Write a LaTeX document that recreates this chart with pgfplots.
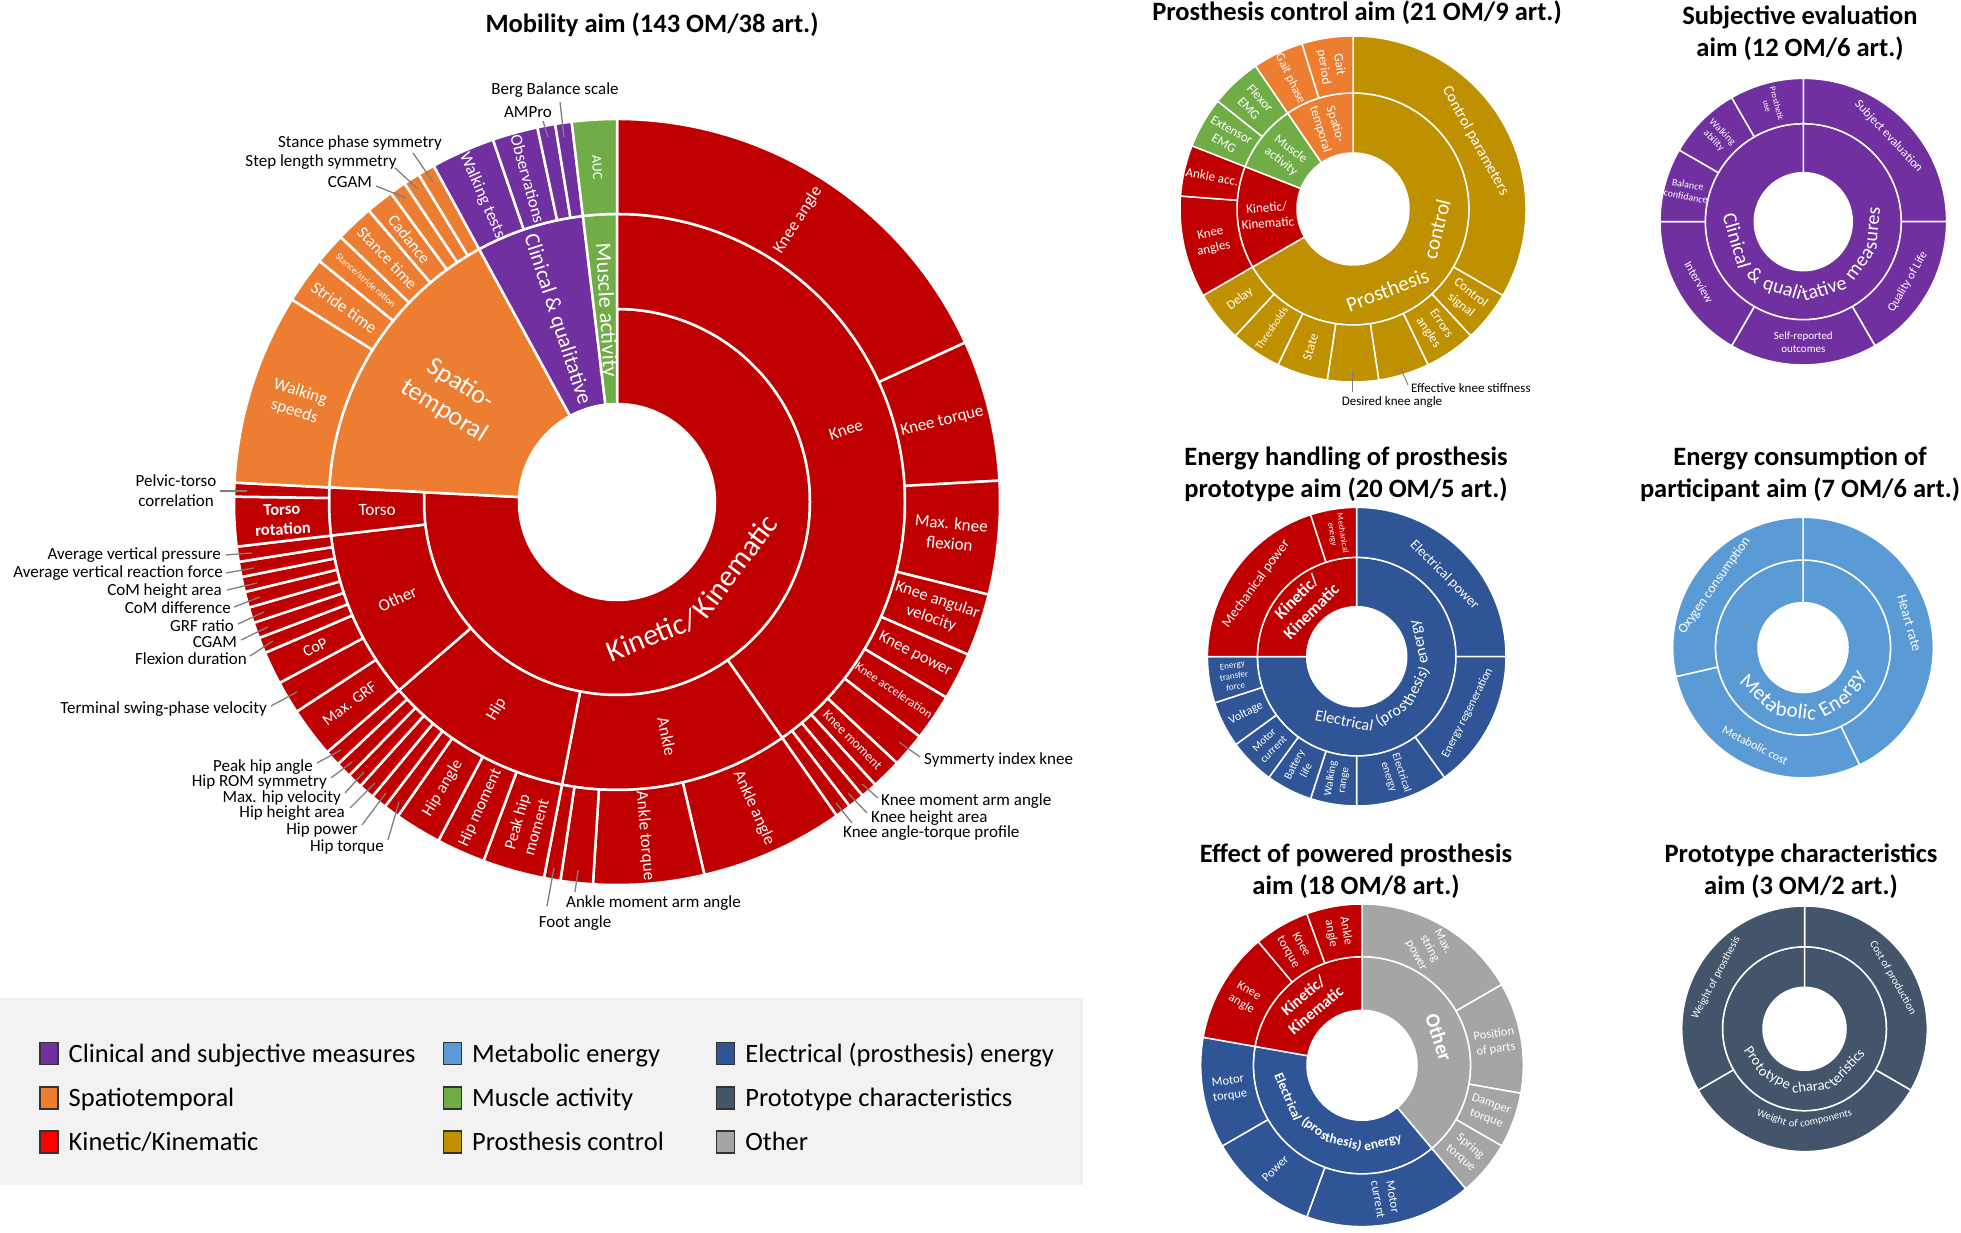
\documentclass[border=0pt]{standalone}
\usepackage{fontspec}
\setmainfont{Carlito}
\usepackage{pgfplots}
\pgfplotsset{compat=1.18}
\usepackage{pgfplotstable}
\definecolor{cR}{HTML}{C00000}
\definecolor{cO}{HTML}{ED7D31}
\definecolor{cP}{HTML}{7030A0}
\definecolor{cG}{HTML}{70AD47}
\definecolor{cY}{HTML}{BF9000}
\definecolor{cB}{HTML}{2F5597}
\definecolor{cL}{HTML}{5B9BD5}
\definecolor{cGy}{HTML}{A5A5A5}
\definecolor{cD}{HTML}{44546A}
\definecolor{cLR}{HTML}{FF0000}
\definecolor{cBg}{HTML}{F2F2F2}
\definecolor{cLd}{HTML}{7F7F7F}
\pgfdeclareplotmark{blank}{}
\tikzset{ldr/.style={draw=cLd, line width=1.3pt},
  olab/.style={font=\fontsize{17}{20}\selectfont, inner sep=1pt, text=black},
  ttl/.style={font=\fontsize{26.5}{32}\selectfont\bfseries, align=center, inner sep=0pt}}
% label inside a segment: [extra font] cx cy theta r rotation size text
\newcommand\lab[8][]{\path (axis cs:#2,#3) ++({90-(#4)}:#5pt) node[rotate=#6, text=white, align=center, inner sep=0pt, font=\fontsize{#7}{\dimexpr#7pt*6/5\relax}\selectfont#1] {#8};}
% word of a label that follows the ring (tops towards centre): [extra font] cx cy theta r size word
\newcommand\wlab[7][]{\path (axis cs:#2,#3) ++({90-(#4)}:#5pt) node[rotate={180-(#4)}, text=white, inner sep=0pt, font=\fontsize{#6}{#6}\selectfont#1] {#7};}
\newcommand\pickcol[1]{\ifcase#1\or\def\wColN{cR}\or\def\wColN{cO}\or\def\wColN{cP}\or\def\wColN{cG}\or\def\wColN{cY}\or\def\wColN{cB}\or\def\wColN{cL}\or\def\wColN{cGy}\or\def\wColN{cD}\else\def\wColN{black}\fi}

% c: 1 red, 2 orange, 3 purple, 4 green, 5 gold, 6 dark blue, 7 light blue, 8 grey, 9 slate
\pgfplotstableread{
cx cy t1 t2 r1 r2 c lw
617 502 0 272.9 98 193 1 2.5
617 502 272.9 331.4 98 288 2 2.5
617 502 331.4 353.2 98 288 3 2.5
617 502 353.2 360 98 288 4 2.5
617 502 0 145 193 288 1 2.5
617 502 145 191 193 288 1 2.5
617 502 191 229.2 193 288 1 2.5
617 502 229.2 263.3 193 288 1 2.5
617 502 263.3 272.9 193 288 1 2.5
617 502 0 65.4 288 383 1 2.5
617 502 65.4 86.8 288 383 1 2.5
617 502 86.8 104 288 383 1 2.5
617 502 104 113.5 288 383 1 2.5
617 502 113.5 120.7 288 383 1 2.5
617 502 120.7 127.8 288 383 1 2.5
617 502 127.8 133 288 383 1 2.5
617 502 133 137.6 288 383 1 2.5
617 502 137.6 140.1 288 383 1 2.5
617 502 140.1 142.6 288 383 1 2.5
617 502 142.6 145 288 383 1 2.5
617 502 145 166.8 288 383 1 2.5
617 502 166.8 183.6 288 383 1 2.5
617 502 183.6 188.5 288 383 1 2.5
617 502 188.5 191 288 383 1 2.5
617 502 191 200.4 288 383 1 2.5
617 502 200.4 207.8 288 383 1 2.5
617 502 207.8 214.9 288 383 1 2.5
617 502 214.9 217.3 288 383 1 2.5
617 502 217.3 219.7 288 383 1 2.5
617 502 219.7 222.1 288 383 1 2.5
617 502 222.1 224.4 288 383 1 2.5
617 502 224.4 226.8 288 383 1 2.5
617 502 226.8 229.2 288 383 1 2.5
617 502 229.2 236.8 288 383 1 2.5
617 502 236.8 241.8 288 383 1 2.5
617 502 241.8 246.8 288 383 1 2.5
617 502 246.8 249.2 288 383 1 2.5
617 502 249.2 251.6 288 383 1 2.5
617 502 251.6 254 288 383 1 2.5
617 502 254 256.4 288 383 1 2.5
617 502 256.4 258.7 288 383 1 2.5
617 502 258.7 261 288 383 1 2.5
617 502 261 263.3 288 383 1 2.5
617 502 263.3 270.8 288 383 1 2.5
617 502 270.8 272.9 288 383 1 2.5
617 502 272.9 301.9 288 383 2 2.5
617 502 301.9 309 288 383 2 2.5
617 502 309 313.8 288 383 2 2.5
617 502 313.8 319.6 288 383 2 2.5
617 502 319.6 323.8 288 383 2 2.5
617 502 323.8 326.3 288 383 2 2.5
617 502 326.3 328.8 288 383 2 2.5
617 502 328.8 331.4 288 383 2 2.5
617 502 331.4 341.1 288 383 3 2.5
617 502 341.1 348 288 383 3 2.5
617 502 348 350.7 288 383 3 2.5
617 502 350.7 353.2 288 383 3 2.5
617 502 353.2 360 288 383 4 2.5
1353 209 0 240 56 116 5 1.5
1353 209 240 291.43 56 116 1 1.5
1353 209 291.43 325.71 56 116 4 1.5
1353 209 325.71 360 56 116 2 1.5
1353 209 0 120 116 173 5 1.5
1353 209 120 137.14 116 173 5 1.5
1353 209 137.14 154.29 116 173 5 1.5
1353 209 154.29 171.43 116 173 5 1.5
1353 209 171.43 188.57 116 173 5 1.5
1353 209 188.57 205.71 116 173 5 1.5
1353 209 205.71 222.86 116 173 5 1.5
1353 209 222.86 240 116 173 5 1.5
1353 209 240 274.29 116 173 1 1.5
1353 209 274.29 291.43 116 173 1 1.5
1353 209 291.43 308.57 116 173 4 1.5
1353 209 308.57 325.71 116 173 4 1.5
1353 209 325.71 342.86 116 173 2 1.5
1353 209 342.86 360 116 173 2 1.5
1803.3 221.7 0 360 49 98 3 1.5
1803.3 221.7 0 90 98 143.3 3 1.5
1803.3 221.7 90 150 98 143.3 3 1.5
1803.3 221.7 150 210 98 143.3 3 1.5
1803.3 221.7 210 270 98 143.3 3 1.5
1803.3 221.7 270 300 98 143.3 3 1.5
1803.3 221.7 300 330 98 143.3 3 1.5
1803.3 221.7 330 360 98 143.3 3 1.5
1356.7 656.7 0 270 50 99.3 6 1.5
1356.7 656.7 270 360 50 99.3 1 1.5
1356.7 656.7 0 90 99.3 149.3 6 1.5
1356.7 656.7 90 144 99.3 149.3 6 1.5
1356.7 656.7 144 180 99.3 149.3 6 1.5
1356.7 656.7 180 198 99.3 149.3 6 1.5
1356.7 656.7 198 216 99.3 149.3 6 1.5
1356.7 656.7 216 234 99.3 149.3 6 1.5
1356.7 656.7 234 252 99.3 149.3 6 1.5
1356.7 656.7 252 270 99.3 149.3 6 1.5
1356.7 656.7 270 342 99.3 149.3 1 1.5
1356.7 656.7 342 360 99.3 149.3 1 1.5
1803 647.6 0 360 45 87.6 7 1.5
1803 647.6 0 154.29 87.6 130.3 7 1.5
1803 647.6 154.29 257.14 87.6 130.3 7 1.5
1803 647.6 257.14 360 87.6 130.3 7 1.5
1362 1065.3 0 140 55 108.6 8 1.5
1362 1065.3 140 280 55 108.6 6 1.5
1362 1065.3 280 360 55 108.6 1 1.5
1362 1065.3 0 60 108.6 161.3 8 1.5
1362 1065.3 60 100 108.6 161.3 8 1.5
1362 1065.3 100 120 108.6 161.3 8 1.5
1362 1065.3 120 140 108.6 161.3 8 1.5
1362 1065.3 140 200 108.6 161.3 6 1.5
1362 1065.3 200 240 108.6 161.3 6 1.5
1362 1065.3 240 280 108.6 161.3 6 1.5
1362 1065.3 280 320 108.6 161.3 1 1.5
1362 1065.3 320 340 108.6 161.3 1 1.5
1362 1065.3 340 360 108.6 161.3 1 1.5
1804.5 1028.8 0 360 41.5 82 9 1.5
1804.5 1028.8 0 120 82 122.8 9 1.5
1804.5 1028.8 120 240 82 122.8 9 1.5
1804.5 1028.8 240 360 82 122.8 9 1.5
}\wedges

\begin{document}
\begin{tikzpicture}
\begin{axis}[at={(0,0)}, anchor=south west, x=1pt, y=1pt,
  xmin=0, xmax=1961, ymin=0, ymax=1233, y dir=reverse,
  hide axis, clip=false, set layers=standard,
  legend columns=3, legend cell align=left,
  legend image code/.code={\draw[#1, draw=black!80, line width=1.5pt] (0pt,-11pt) rectangle (18pt,11pt);},
  legend style={at={(axis cs:39,1041)}, anchor=north west, draw=none, fill=none, inner sep=0pt,
    font=\fontsize{26.5}{30}\selectfont, row sep=20pt,
    /tikz/column 1/.style={column sep=8pt},
    /tikz/column 2/.style={column sep=25pt},
    /tikz/column 3/.style={column sep=8pt},
    /tikz/column 4/.style={column sep=50pt},
    /tikz/column 5/.style={column sep=8pt}}]

\fill[cBg] (axis cs:0,998) rectangle (axis cs:1083,1185);

\addplot[scatter, only marks, mark=blank, forget plot, point meta=explicit,
  on layer=axis background, mark layer=like plot,
  visualization depends on={\thisrow{t1}\as\wTa},
  visualization depends on={\thisrow{t2}\as\wTb},
  visualization depends on={\thisrow{r1}\as\wRa},
  visualization depends on={\thisrow{r2}\as\wRb},
  visualization depends on={\thisrow{c}\as\wCi},
  visualization depends on={\thisrow{lw}\as\wLw},
  scatter/@pre marker code/.code={%
    \pgfmathsetmacro\wPa{90-\wTa}\pgfmathsetmacro\wPb{90-\wTb}%
    \pgfmathsetmacro\wRA{\wRa}\pgfmathsetmacro\wRB{\wRb}\pgfmathsetmacro\wLW{\wLw}%
    \pgfmathtruncatemacro\wCk{round(\wCi)}\pickcol{\wCk}%
    \filldraw[fill=\wColN, draw=white, line width=\wLW pt, line join=round]
      (\wPa:\wRA pt) arc[start angle=\wPa, end angle=\wPb, radius=\wRA pt]
      -- (\wPb:\wRB pt) arc[start angle=\wPb, end angle=\wPa, radius=\wRB pt] -- cycle;},
  scatter/@post marker code/.code={}
] table[x=cx, y=cy, meta=r2] \wedges;

% ---------- main chart labels ----------
\path (axis cs:617,502) ++({90-165.5}:138pt) node[rotate=22, text=white, inner sep=0pt, font=\fontsize{30}{30}\selectfont] {Kinetic/};
\path (axis cs:617,502) ++({90-118.5}:134pt) node[rotate=53, text=white, inner sep=0pt, font=\fontsize{30}{30}\selectfont] {Kinematic};
\lab{617}{502}{72.5}{240}{17.5}{17}{Knee}
\lab{617}{502}{168}{240}{-78}{17}{Ankle}
\lab{617}{502}{210.1}{240}{59.9}{17}{Hip}
\lab{617}{502}{246.2}{240}{23.8}{17}{Other}
\lab{617}{502}{268.1}{240}{1.9}{17}{Torso}
\lab{617}{502}{32.7}{335}{57.3}{17}{Knee angle}
\lab{617}{502}{76.1}{335}{13.9}{17}{Knee torque}
\lab{617}{502}{95.4}{335}{-5.4}{17}{Max. knee\\flexion}
\lab{617}{502}{108.7}{335}{-18.7}{16.5}{Knee angular\\velocity}
\lab{617}{502}{117.1}{335}{-27.1}{16.5}{Knee power}
\lab{617}{502}{124.2}{335}{-34.2}{12.5}{Knee acceleration}
\lab{617}{502}{135.3}{335}{-45.3}{13.5}{Knee moment}
\lab{617}{502}{155.9}{335}{-65.9}{17}{Ankle angle}
\lab{617}{502}{175.2}{335}{-85.2}{17}{Ankle torque}
\lab{617}{502}{195.7}{335}{74.3}{16.5}{Peak hip\\moment}
\lab{617}{502}{204.1}{335}{65.9}{16.5}{Hip moment}
\lab{617}{502}{211.35}{335}{58.65}{16.5}{Hip angle}
\lab{617}{502}{233}{335}{37}{16}{Max. GRF}
\lab{617}{502}{244.3}{335}{25.7}{16}{CoP}
\lab[\bfseries]{617}{502}{267}{335}{3}{16.5}{Torso\\rotation}
\lab{617}{502}{287.4}{335}{-17.4}{17}{Walking\\speeds}
\lab{617}{502}{305.5}{335}{-35.5}{17}{Stride time}
\lab{617}{502}{311.4}{335}{-41.4}{9.5}{Stance/stride ration}
\lab{617}{502}{316.7}{335}{-46.7}{16.5}{Stance time}
\lab{617}{502}{321.7}{335}{-51.7}{16.5}{Cadance}
\lab{617}{502}{336.25}{335}{-66.25}{17}{Walking tests}
\lab{617}{502}{344.55}{335}{-74.55}{17}{Observations}
\lab{617}{502}{356.6}{335}{-86.6}{14}{AUC}
\lab{617}{502}{302.3}{195}{-32}{26}{Spatio-\\temporal}
\lab{617}{502}{341.8}{192}{-72}{21.5}{Clinical \& qualitative}
\lab{617}{502}{356.6}{192}{-86.6}{22}{Muscle activity}

% outside labels with leaders
\node[olab] at (axis cs:555,90) {Berg Balance scale};
\draw[ldr] (axis cs:560,102) -- (axis cs:564,137);
\node[olab] at (axis cs:528,112) {AMPro};
\draw[ldr] (axis cs:543,121) -- (axis cs:548,137);
\node[olab] at (axis cs:360,143) {Stance phase symmetry};
\draw[ldr] (axis cs:413,153) -- (axis cs:433,182);
\node[olab] at (axis cs:321,162) {Step length symmetry};
\draw[ldr] (axis cs:395,168) -- (axis cs:418,189);
\node[olab] at (axis cs:350,182) {CGAM};
\draw[ldr] (axis cs:376,186) -- (axis cs:406,198);
\node[olab, align=center] at (axis cs:176,491) {Pelvic-torso\\correlation};
\draw[ldr] (axis cs:220,491) -- (axis cs:247,491);
\node[olab, anchor=east] at (axis cs:222,555) {Average vertical pressure};
\draw[ldr] (axis cs:226,555) -- (axis cs:252,553);
\node[olab, anchor=east] at (axis cs:224,573) {Average vertical reaction force};
\draw[ldr] (axis cs:226,573) -- (axis cs:254,568);
\node[olab, anchor=east] at (axis cs:223,591) {CoM height area};
\draw[ldr] (axis cs:227,590) -- (axis cs:257,583);
\node[olab, anchor=east] at (axis cs:232,608) {CoM difference};
\draw[ldr] (axis cs:234,607) -- (axis cs:260,597);
\node[olab, anchor=east] at (axis cs:235,626) {GRF ratio};
\draw[ldr] (axis cs:238,624) -- (axis cs:264,612);
\node[olab, anchor=east] at (axis cs:238,642) {CGAM};
\draw[ldr] (axis cs:241,640) -- (axis cs:268,627);
\node[olab, anchor=east] at (axis cs:248,659) {Flexion duration};
\draw[ldr] (axis cs:250,656) -- (axis cs:273,641);
\node[olab, anchor=east] at (axis cs:268,709) {Terminal swing-phase velocity};
\draw[ldr] (axis cs:271,706) -- (axis cs:297,692);
\node[olab, anchor=east] at (axis cs:314,767) {Peak hip angle};
\draw[ldr] (axis cs:317,763) -- (axis cs:341,750);
\node[olab, anchor=east] at (axis cs:328,782) {Hip ROM symmetry};
\draw[ldr] (axis cs:331,778) -- (axis cs:352,762);
\node[olab, anchor=east] at (axis cs:342,798) {Max. hip velocity};
\draw[ldr] (axis cs:345,793) -- (axis cs:364,772);
\node[olab, anchor=east] at (axis cs:346,813) {Hip height area};
\draw[ldr] (axis cs:350,808) -- (axis cs:375,783);
\node[olab, anchor=east] at (axis cs:359,830) {Hip power};
\draw[ldr] (axis cs:362,825) -- (axis cs:386,793);
\node[olab, anchor=east] at (axis cs:385,847) {Hip torque};
\draw[ldr] (axis cs:388,840) -- (axis cs:399,802);
\node[olab] at (axis cs:575,923) {Foot angle};
\draw[ldr] (axis cs:547,906) -- (axis cs:554,868);
\node[olab, anchor=west] at (axis cs:565,903) {Ankle moment arm angle};
\draw[ldr] (axis cs:575,892) -- (axis cs:578,870);
\node[olab, anchor=west] at (axis cs:923,760) {Symmerty index knee};
\draw[ldr] (axis cs:920,757) -- (axis cs:899,742);
\node[olab, anchor=west] at (axis cs:880,801) {Knee moment arm angle};
\draw[ldr] (axis cs:878,798) -- (axis cs:862,784);
\node[olab, anchor=west] at (axis cs:870,818) {Knee height area};
\draw[ldr] (axis cs:867,813) -- (axis cs:848,793);
\node[olab, anchor=west] at (axis cs:842,833) {Knee angle-torque profile};
\draw[ldr] (axis cs:852,823) -- (axis cs:836,803);

% ---------- prosthesis control ----------
\path (axis cs:1353,209) ++({90-157}:88pt) node[rotate=21, text=white, inner sep=0pt, font=\fontsize{21}{21}\selectfont] {Prosthesis};
\path (axis cs:1353,209) ++({90-103.5}:86pt) node[rotate=76, text=white, inner sep=0pt, font=\fontsize{21}{21}\selectfont] {control};
\lab{1353}{209}{61}{140}{-61}{15.5}{Control parameters}
\lab{1353}{209}{128.6}{144.5}{-38.6}{13}{Control\\signal}
\lab{1353}{209}{145.7}{144.5}{-55.7}{13}{Errors\\angles}
\lab{1353}{209}{197.1}{144.5}{72.9}{13}{State}
\lab{1353}{209}{214.3}{144.5}{55.7}{11}{Thresholds}
\lab{1353}{209}{231.4}{144.5}{38.6}{13}{Delay}
\lab{1353}{209}{257.1}{144.5}{12.9}{13}{Knee\\angles}
\lab{1353}{209}{282.9}{144.5}{-10}{13}{Ankle acc.}
\lab{1353}{209}{300}{144.5}{-30}{13}{Extensor\\EMG}
\lab{1353}{209}{317.1}{144.5}{-47.1}{13}{Flexor\\EMG}
\lab{1353}{209}{334.3}{144.5}{-64.3}{12.5}{Gait phase}
\lab{1353}{209}{351.4}{144.5}{-81.4}{13}{Gait\\period}
\lab{1353}{209}{265.7}{86}{4.3}{13}{Kinetic/\\Kinematic}
\lab{1353}{209}{308.6}{86}{-38.6}{13}{Muscle\\activity}
\lab{1353}{209}{342.9}{86}{-72.9}{13}{Spatio-\\temporal}
\draw[ldr, line width=1pt] (axis cs:1400,367) -- (axis cs:1408,385);
\node[olab, anchor=west, font=\fontsize{13}{15}\selectfont] at (axis cs:1410,388) {Effective knee stiffness};
\draw[ldr, line width=1pt] (axis cs:1352.7,372) -- (axis cs:1352.7,392);
\node[olab, font=\fontsize{13}{15}\selectfont] at (axis cs:1392,402) {Desired knee angle};

% ---------- subjective evaluation ----------
\wlab{1803.3}{221.7}{253.9}{69}{20}{Clinical}
\wlab{1803.3}{221.7}{222}{72}{20}{\&}
\wlab{1803.3}{221.7}{197.3}{70.5}{20}{quali}
\wlab{1803.3}{221.7}{162.9}{70}{20}{tative}
\wlab{1803.3}{221.7}{126.7}{71}{20}{mea}
\wlab{1803.3}{221.7}{95.4}{70.5}{20}{sures}
\lab{1803.3}{221.7}{45}{120.6}{-47}{12.5}{Subject evaluation}
\lab{1803.3}{221.7}{120}{120.6}{60}{12}{Quality of Life}
\lab{1803.3}{221.7}{180}{120.6}{0}{11}{Self-reported\\outcomes}
\lab{1803.3}{221.7}{240}{120.6}{-60}{12}{Interview}
\lab{1803.3}{221.7}{285}{120.6}{-10}{10}{Balance\\confidance}
\lab{1803.3}{221.7}{315}{120.6}{-45}{10}{Walking\\ability}
\lab{1803.3}{221.7}{345}{120.6}{-75}{8.5}{Prosthetic\\use}

% ---------- energy handling ----------
\wlab{1356.7}{656.7}{191}{65}{16}{Electrical}
\wlab{1356.7}{656.7}{149}{67}{16}{(pros}
\wlab{1356.7}{656.7}{116.9}{66.5}{16}{thesis)}
\wlab{1356.7}{656.7}{77}{66}{16}{energy}
\lab{1356.7}{656.7}{47}{120}{-45}{14}{Electrical power}
\lab{1356.7}{656.7}{117}{124.3}{63}{12}{Energy regeneration}
\lab{1356.7}{656.7}{162}{124.3}{-72}{11}{Electrical\\energy}
\lab{1356.7}{656.7}{189}{124.3}{81}{11}{Walking\\range}
\lab{1356.7}{656.7}{207}{124.3}{63}{11}{Battery\\life}
\lab{1356.7}{656.7}{225}{124.3}{45}{11}{Motor\\current}
\lab{1356.7}{656.7}{243}{124.3}{27}{12}{Voltage}
\lab{1356.7}{656.7}{261}{124.3}{9}{9}{Energy\\transfer\\force}
\lab{1356.7}{656.7}{306}{124.3}{54}{14}{Mechanical power}
\lab{1356.7}{656.7}{351}{124.3}{-81}{8.5}{Mechanical\\energy}
\lab[\bfseries]{1356.7}{656.7}{315}{74.7}{45}{17}{Kinetic/\\Kinematic}

% ---------- energy consumption ----------
\wlab{1803}{647.6}{223.65}{63}{21}{Meta}
\wlab{1803}{647.6}{186.3}{63.5}{21}{bolic}
\wlab{1803}{647.6}{150.8}{64}{21}{Ene}
\wlab{1803}{647.6}{125.4}{64}{21}{rgy}
\lab{1803}{647.6}{77}{109}{-74}{14}{Heart rate}
\lab{1803}{647.6}{206}{109}{-27}{12}{Metabolic cost}
\lab{1803}{647.6}{305}{108}{55}{13.5}{Oxygen consumption}

% ---------- effect of powered prosthesis ----------
\wlab[\bfseries]{1362}{1065.3}{247}{80}{13.5}{Electrical}
\wlab[\bfseries]{1362}{1065.3}{216.8}{79}{13.5}{(pros}
\wlab[\bfseries]{1362}{1065.3}{193.7}{79}{13.5}{thesis)}
\wlab[\bfseries]{1362}{1065.3}{165}{82}{13.5}{energy}
\lab{1362}{1065.3}{30}{135}{-62}{12.5}{Max.\\string\\power}
\lab{1362}{1065.3}{80}{135}{8}{12.5}{Position\\of parts}
\lab{1362}{1065.3}{110}{135}{-20}{12.5}{Damper\\torque}
\lab{1362}{1065.3}{130}{135}{-40}{12.5}{Spring\\torque}
\lab{1362}{1065.3}{170}{135}{-80}{12.5}{Motor\\current}
\lab{1362}{1065.3}{220}{135}{45}{12.5}{Power}
\lab{1362}{1065.3}{260}{135}{8}{12.5}{Motor\\torque}
\lab{1362}{1065.3}{300}{135}{-30}{12.5}{Knee\\angle}
\lab{1362}{1065.3}{330}{135}{-60}{12.5}{Knee\\torque}
\lab{1362}{1065.3}{350}{135}{-80}{12.5}{Ankle\\angle}
\lab[\bfseries]{1362}{1065.3}{70}{81.8}{-72}{20}{Other}
\lab[\bfseries]{1362}{1065.3}{320}{81.8}{40}{16}{Kinetic/\\Kinematic}

% ---------- prototype characteristics ----------
\wlab{1804.5}{1028.8}{235.7}{58}{14.5}{Proto}
\wlab{1804.5}{1028.8}{207.5}{58}{14.5}{type}
\wlab{1804.5}{1028.8}{173.3}{58}{14.5}{charac}
\wlab{1804.5}{1028.8}{132.7}{57}{14.5}{teristics}
\wlab{1804.5}{1028.8}{200.2}{95}{10.5}{Weight}
\wlab{1804.5}{1028.8}{186.7}{95}{10.5}{of}
\wlab{1804.5}{1028.8}{166.6}{93}{10.5}{components}
\lab{1804.5}{1028.8}{60}{102}{-60}{11}{Cost of production}
\lab{1804.5}{1028.8}{300}{102}{62}{11}{Weight of prosthesis}

% ---------- titles ----------
\node[ttl] at (axis cs:652,25) {Mobility aim (143 OM/38 art.)};
\node[ttl] at (axis cs:1357,13) {Prosthesis control aim (21 OM/9 art.)};
\node[ttl] at (axis cs:1800,33) {Subjective evaluation\\aim (12 OM/6 art.)};
\node[ttl] at (axis cs:1346,474) {Energy handling of prosthesis\\prototype aim (20 OM/5 art.)};
\node[ttl] at (axis cs:1800,474) {Energy consumption of\\participant aim (7 OM/6 art.)};
\node[ttl] at (axis cs:1356,871) {Effect of powered prosthesis\\aim (18 OM/8 art.)};
\node[ttl] at (axis cs:1801,871) {Prototype characteristics\\aim (3 OM/2 art.)};

% ---------- legend ----------
\addlegendimage{fill=cP}\addlegendentry{Clinical and subjective measures}
\addlegendimage{fill=cL}\addlegendentry{Metabolic energy}
\addlegendimage{fill=cB}\addlegendentry{Electrical (prosthesis) energy}
\addlegendimage{fill=cO}\addlegendentry{Spatiotemporal}
\addlegendimage{fill=cG}\addlegendentry{Muscle activity}
\addlegendimage{fill=cD}\addlegendentry{Prototype characteristics}
\addlegendimage{fill=cLR}\addlegendentry{Kinetic/Kinematic}
\addlegendimage{fill=cY}\addlegendentry{Prosthesis control}
\addlegendimage{fill=cGy}\addlegendentry{Other}
\end{axis}
\pgfresetboundingbox
\path (0,0) rectangle (1961pt,1233pt);
\end{tikzpicture}
\end{document}
